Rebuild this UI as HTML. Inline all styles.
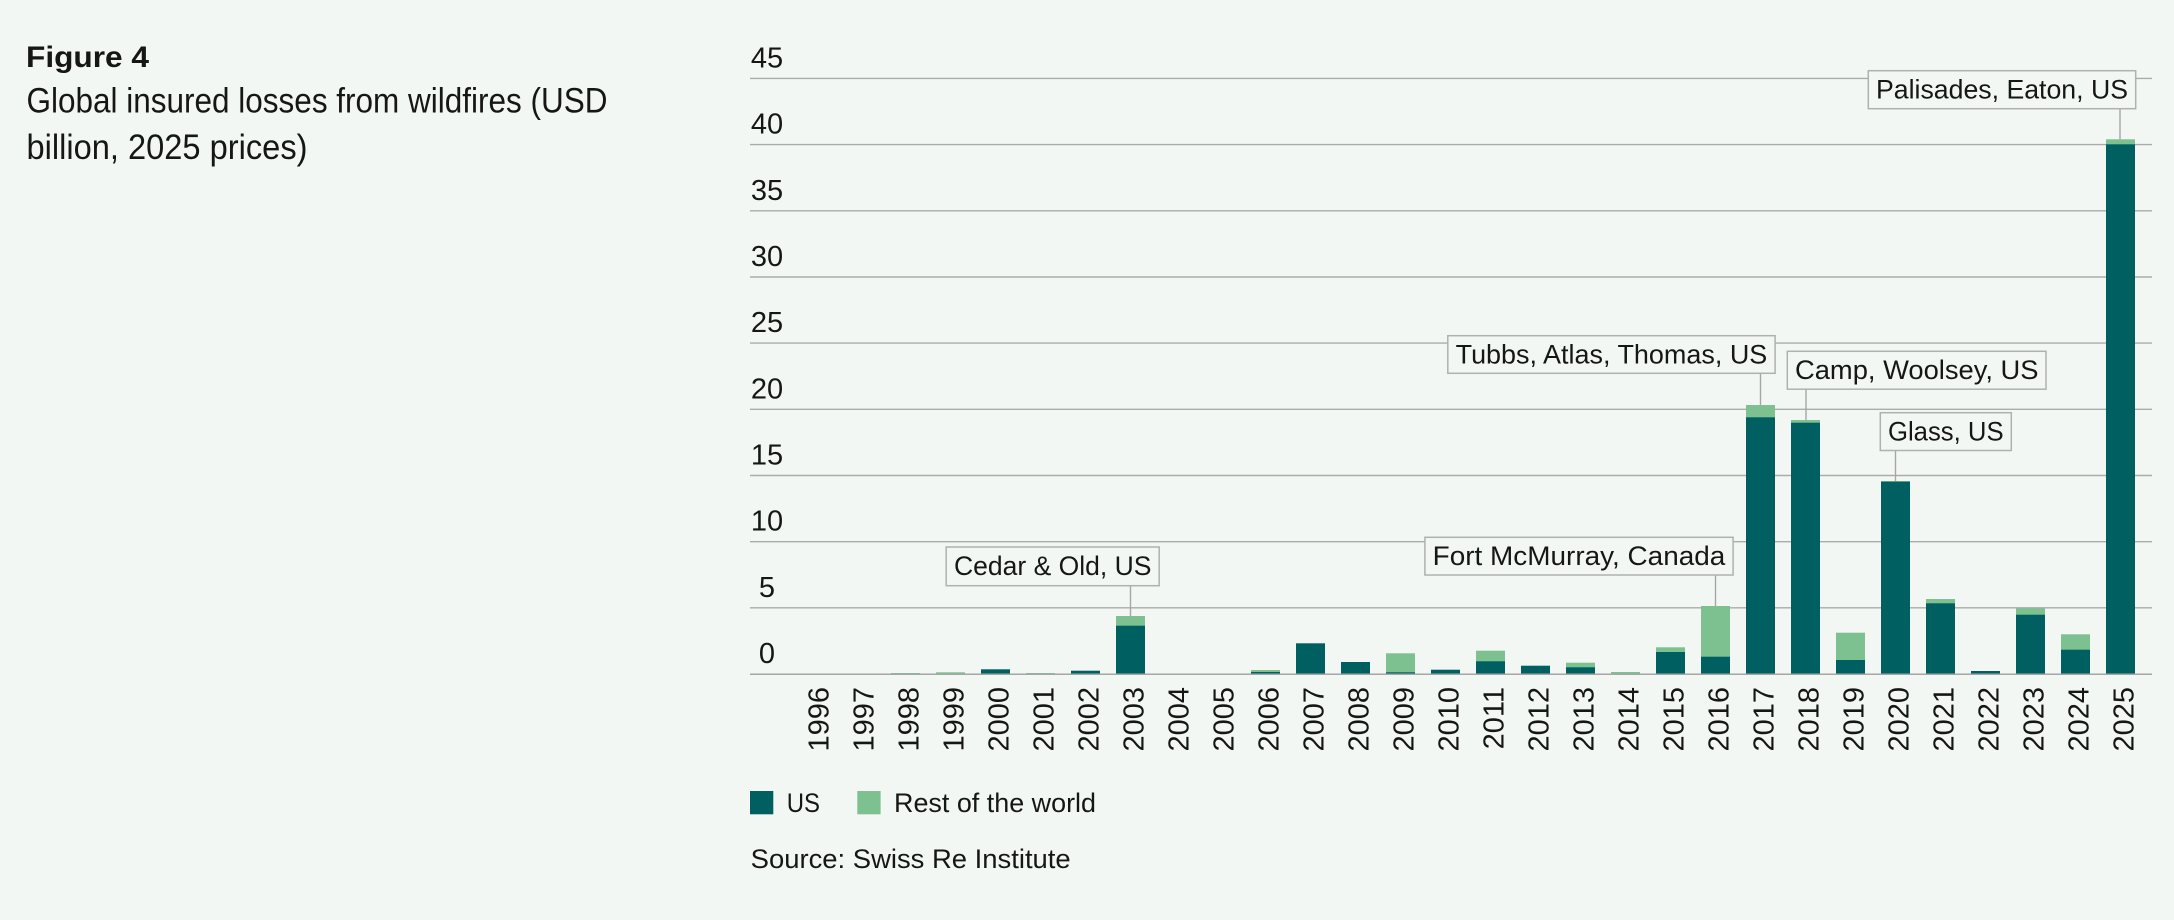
<!DOCTYPE html>
<html>
<head>
<meta charset="utf-8">
<style>
html,body{margin:0;padding:0;background:#f3f7f4;}
svg{display:block;}
text{font-family:"Liberation Sans",sans-serif;fill:#161616;}
</style>
</head>
<body>
<svg width="2174" height="920" viewBox="0 0 2174 920" xmlns="http://www.w3.org/2000/svg">
<rect x="0" y="0" width="2174" height="920" fill="#f3f7f4"/>

<!-- Title -->
<text x="26" y="67" font-size="30" font-weight="bold" textLength="123" lengthAdjust="spacingAndGlyphs">Figure 4</text>
<text x="26.5" y="112.5" font-size="35" textLength="581" lengthAdjust="spacingAndGlyphs">Global insured losses from wildfires (USD</text>
<text x="26.5" y="159" font-size="35" textLength="281" lengthAdjust="spacingAndGlyphs">billion, 2025 prices)</text>

<!-- Gridlines -->
<g stroke="#ababab" stroke-width="1.4">
<line x1="750" y1="78.4" x2="2152" y2="78.4"/>
<line x1="750" y1="144.6" x2="2152" y2="144.6"/>
<line x1="750" y1="210.8" x2="2152" y2="210.8"/>
<line x1="750" y1="277" x2="2152" y2="277"/>
<line x1="750" y1="343.1" x2="2152" y2="343.1"/>
<line x1="750" y1="409.3" x2="2152" y2="409.3"/>
<line x1="750" y1="475.5" x2="2152" y2="475.5"/>
<line x1="750" y1="541.7" x2="2152" y2="541.7"/>
<line x1="750" y1="607.8" x2="2152" y2="607.8"/>
</g>

<!-- Y tick labels -->
<g font-size="29" text-anchor="middle">
<text x="767" y="67.4">45</text>
<text x="767" y="133.6">40</text>
<text x="767" y="199.8">35</text>
<text x="767" y="266">30</text>
<text x="767" y="332.1">25</text>
<text x="767" y="398.3">20</text>
<text x="767" y="464.5">15</text>
<text x="767" y="530.7">10</text>
<text x="767" y="596.8">5</text>
<text x="767" y="663">0</text>
</g>

<!-- Bars: light (total) then dark (US) -->
<g fill="#7dc191">
<rect x="891" y="673" width="29" height="1"/>
<rect x="936" y="672.3" width="29" height="1.7"/>
<rect x="1026" y="673" width="29" height="1"/>
<rect x="1116" y="616" width="29" height="58"/>
<rect x="1251" y="670" width="29" height="4"/>
<rect x="1386" y="653.3" width="29" height="20.7"/>
<rect x="1476" y="650.7" width="29" height="23.3"/>
<rect x="1566" y="662.7" width="29" height="11.3"/>
<rect x="1611" y="672" width="29" height="2"/>
<rect x="1656" y="647.3" width="29" height="26.7"/>
<rect x="1701" y="606" width="29" height="68"/>
<rect x="1746" y="405" width="29" height="269"/>
<rect x="1791" y="420" width="29" height="254"/>
<rect x="1836" y="632.7" width="29" height="41.3"/>
<rect x="1881" y="481" width="29" height="193"/>
<rect x="1926" y="599" width="29" height="75"/>
<rect x="2016" y="608.3" width="29" height="65.7"/>
<rect x="2061" y="634.3" width="29" height="39.7"/>
<rect x="2106" y="139.3" width="29" height="534.7"/>
</g>
<g fill="#005f60">
<rect x="981" y="669.3" width="29" height="4.7"/>
<rect x="1071" y="670.7" width="29" height="3.3"/>
<rect x="1116" y="625.7" width="29" height="48.3"/>
<rect x="1251" y="672" width="29" height="2"/>
<rect x="1296" y="643.3" width="29" height="30.7"/>
<rect x="1341" y="662" width="29" height="12"/>
<rect x="1386" y="672.3" width="29" height="1.7"/>
<rect x="1431" y="669.7" width="29" height="4.3"/>
<rect x="1476" y="661.3" width="29" height="12.7"/>
<rect x="1521" y="665.7" width="29" height="8.3"/>
<rect x="1566" y="667.3" width="29" height="6.7"/>
<rect x="1656" y="652" width="29" height="22"/>
<rect x="1701" y="656.7" width="29" height="17.3"/>
<rect x="1746" y="417.3" width="29" height="256.7"/>
<rect x="1791" y="422.7" width="29" height="251.3"/>
<rect x="1836" y="660" width="29" height="14"/>
<rect x="1881" y="481.7" width="29" height="192.3"/>
<rect x="1926" y="603.3" width="29" height="70.7"/>
<rect x="1971" y="671" width="29" height="3"/>
<rect x="2016" y="614.7" width="29" height="59.3"/>
<rect x="2061" y="649.7" width="29" height="24.3"/>
<rect x="2106" y="144.3" width="29" height="529.7"/>
</g>

<!-- Zero axis -->
<line x1="750" y1="674.3" x2="2152" y2="674.3" stroke="#a6a6a6" stroke-width="1.5"/>

<!-- Leader lines -->
<g stroke="#a6a6a6" stroke-width="1.4">
<line x1="1130.5" y1="585.7" x2="1130.5" y2="616"/>
<line x1="1715.5" y1="575" x2="1715.5" y2="606"/>
<line x1="1760.5" y1="373.3" x2="1760.5" y2="405"/>
<line x1="1806" y1="389.2" x2="1806" y2="420"/>
<line x1="1895.5" y1="450.5" x2="1895.5" y2="481"/>
<line x1="2120" y1="108.7" x2="2120" y2="139.3"/>
</g>

<!-- Annotation boxes -->
<g fill="#f3f7f4" stroke="#b0b0b0" stroke-width="1.5">
<rect x="946.2" y="547" width="213" height="38.7"/>
<rect x="1424.9" y="537.3" width="308.2" height="37.7"/>
<rect x="1447.8" y="335.7" width="327.3" height="37.6"/>
<rect x="1787.3" y="351.3" width="258.7" height="37.9"/>
<rect x="1880.3" y="412.7" width="131" height="37.8"/>
<rect x="1868.3" y="70.7" width="267.4" height="38"/>
</g>
<g font-size="27">
<text x="954" y="575" textLength="197.5" lengthAdjust="spacingAndGlyphs">Cedar &amp; Old, US</text>
<text x="1432.7" y="565" textLength="292.6" lengthAdjust="spacingAndGlyphs">Fort McMurray, Canada</text>
<text x="1455.6" y="363.5" textLength="311.7" lengthAdjust="spacingAndGlyphs">Tubbs, Atlas, Thomas, US</text>
<text x="1795" y="379" textLength="243.5" lengthAdjust="spacingAndGlyphs">Camp, Woolsey, US</text>
<text x="1888" y="440.5" textLength="115.6" lengthAdjust="spacingAndGlyphs">Glass, US</text>
<text x="1876" y="98.3" textLength="252" lengthAdjust="spacingAndGlyphs">Palisades, Eaton, US</text>
</g>

<!-- X labels -->
<g font-size="29" text-anchor="end">
<text transform="translate(828.5,687) rotate(-90)">1996</text>
<text transform="translate(873.5,687) rotate(-90)">1997</text>
<text transform="translate(918.5,687) rotate(-90)">1998</text>
<text transform="translate(963.5,687) rotate(-90)">1999</text>
<text transform="translate(1008.5,687) rotate(-90)">2000</text>
<text transform="translate(1053.5,687) rotate(-90)">2001</text>
<text transform="translate(1098.5,687) rotate(-90)">2002</text>
<text transform="translate(1143.5,687) rotate(-90)">2003</text>
<text transform="translate(1188.5,687) rotate(-90)">2004</text>
<text transform="translate(1233.5,687) rotate(-90)">2005</text>
<text transform="translate(1278.5,687) rotate(-90)">2006</text>
<text transform="translate(1323.5,687) rotate(-90)">2007</text>
<text transform="translate(1368.5,687) rotate(-90)">2008</text>
<text transform="translate(1413.5,687) rotate(-90)">2009</text>
<text transform="translate(1458.5,687) rotate(-90)">2010</text>
<text transform="translate(1503.5,687) rotate(-90)">2011</text>
<text transform="translate(1548.5,687) rotate(-90)">2012</text>
<text transform="translate(1593.5,687) rotate(-90)">2013</text>
<text transform="translate(1638.5,687) rotate(-90)">2014</text>
<text transform="translate(1683.5,687) rotate(-90)">2015</text>
<text transform="translate(1728.5,687) rotate(-90)">2016</text>
<text transform="translate(1773.5,687) rotate(-90)">2017</text>
<text transform="translate(1818.5,687) rotate(-90)">2018</text>
<text transform="translate(1863.5,687) rotate(-90)">2019</text>
<text transform="translate(1908.5,687) rotate(-90)">2020</text>
<text transform="translate(1953.5,687) rotate(-90)">2021</text>
<text transform="translate(1998.5,687) rotate(-90)">2022</text>
<text transform="translate(2043.5,687) rotate(-90)">2023</text>
<text transform="translate(2088.5,687) rotate(-90)">2024</text>
<text transform="translate(2133.5,687) rotate(-90)">2025</text>
</g>

<!-- Legend -->
<rect x="750" y="791" width="23.3" height="23.3" fill="#005f60"/>
<rect x="857.3" y="791" width="23.3" height="23.3" fill="#7dc191"/>
<text x="786.7" y="812" font-size="27" textLength="33.3" lengthAdjust="spacingAndGlyphs">US</text>
<text x="894" y="812" font-size="27" textLength="202" lengthAdjust="spacingAndGlyphs">Rest of the world</text>

<!-- Source -->
<text x="750.7" y="868" font-size="27" textLength="320" lengthAdjust="spacingAndGlyphs">Source: Swiss Re Institute</text>
</svg>
</body>
</html>
